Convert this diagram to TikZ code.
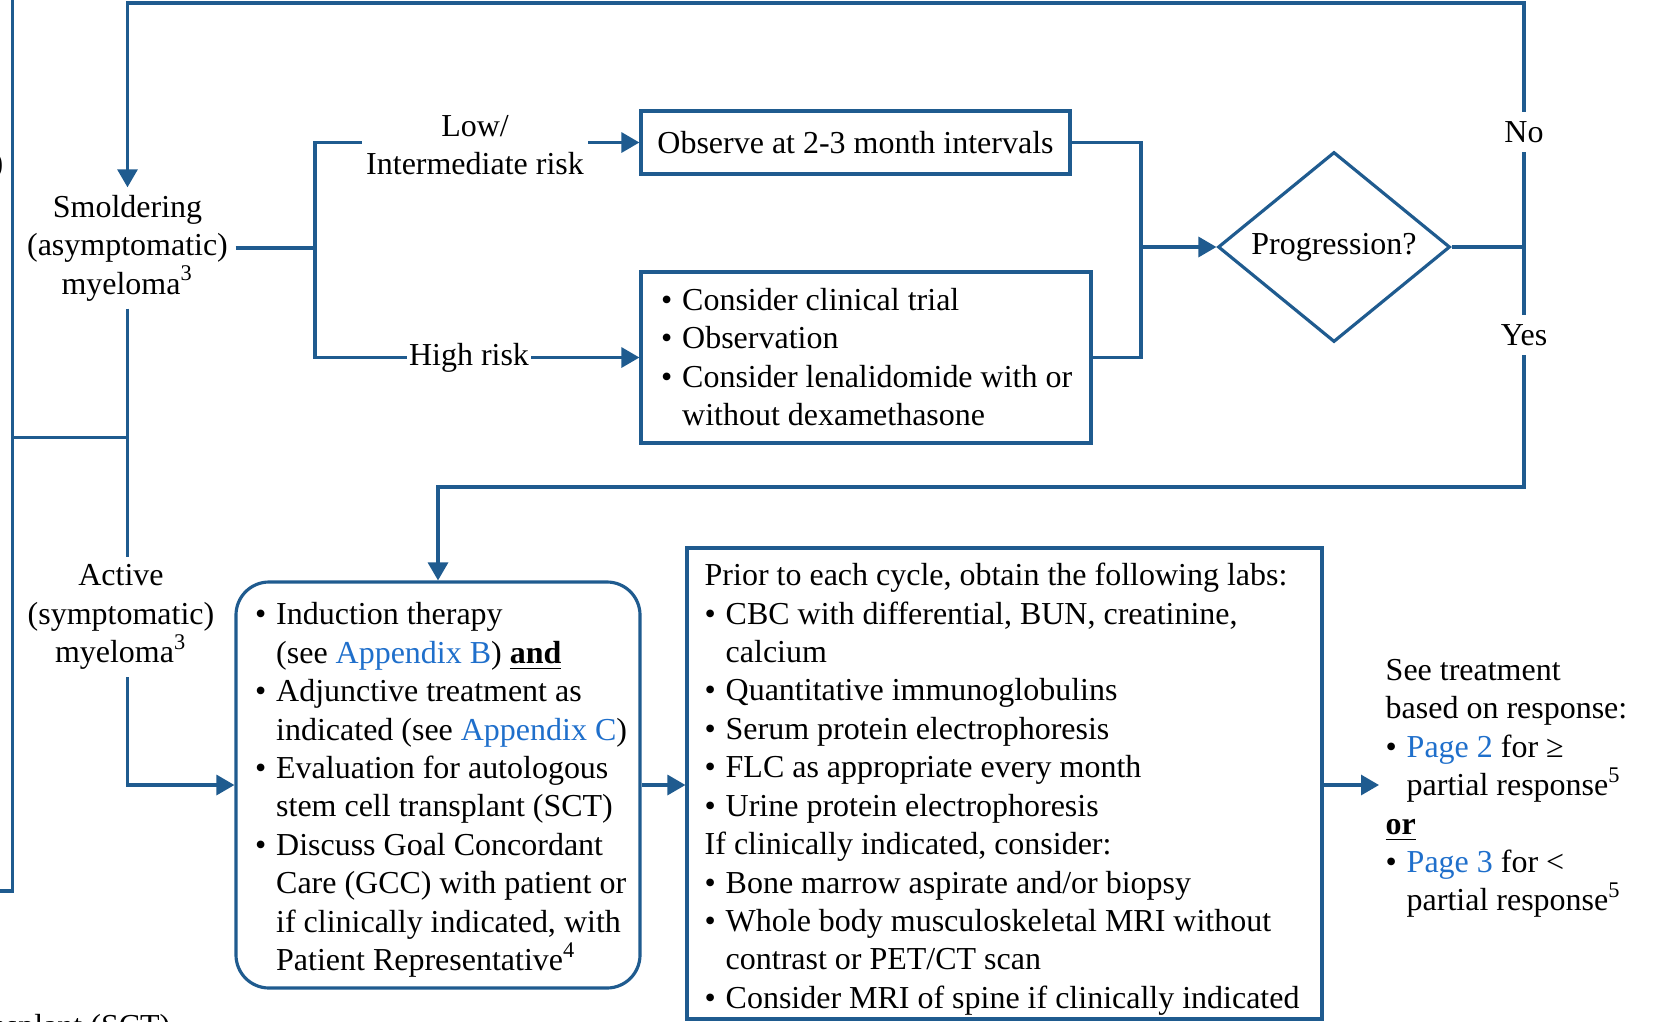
\documentclass[tikz,border=0pt]{standalone}
\usepackage{fontspec}
\setmainfont{Liberation Serif}
\usepackage{tikz}
\usetikzlibrary{positioning,arrows.meta,shapes.geometric}
\usepackage{xcolor}
\definecolor{mmblue}{HTML}{1F5B8F}
\definecolor{linkblue}{HTML}{1F6FCB}
\tikzset{
  mmline/.style={draw=mmblue, line width=0.9pt},
  mmarrow/.style={mmline, -{Triangle[length=1.8mm, width=2mm]}},
  mmbox/.style={draw=mmblue, line width=0.9pt, inner sep=0pt},
  mmtext/.style={align=left, anchor=north west, inner sep=0pt},
  mmlabel/.style={align=center, inner sep=2pt},
}
\newcommand{\itemdot}{\makebox[2.1mm][l]{\textbullet}}
\newcommand{\itemgap}{\hspace*{2.1mm}}
\newcommand{\lnk}[1]{\textcolor{linkblue}{#1}}

\begin{document}
\begin{tikzpicture}[x=0.1mm, y=-0.1mm, font=\fontsize{9.1pt}{10.93pt}\selectfont]
  \useasboundingbox (0,0) rectangle (1653,1021);
  \clip (0,0) rectangle (1653,1021);
  % left column
  \node[mmlabel] (smold) at (127.5,248) {Smoldering\\(asymptomatic)\\myeloma\textsuperscript{3}};
  \node[mmlabel] (active) at (121,617) {Active\\(symptomatic)\\myeloma\textsuperscript{3}};
  \node[anchor=base east, inner sep=0pt] (cutparen) at (4,173) {)};
  \node[anchor=base east, inner sep=0pt] (cutsct) at (171,1036) {transplant (SCT)};
  % upper branch
  \node[mmlabel, inner sep=1pt] (lowlbl) at (475,145) {Low/\\Intermediate risk};
  \node[mmlabel, inner sep=0.5pt] (highlbl) at (469,357.5) {High risk};
  \node[mmbox, minimum width=42.9mm, minimum height=6.3mm] (observe) at (855.5,142.5) {Observe at 2-3 month intervals};
  \node[mmbox, minimum width=45mm, minimum height=17.1mm] (highbox) at (866,357.5) {};
  \node[mmtext] (hightxt) at (660.5,287.5) {\itemdot Consider clinical trial\\\itemdot Observation\\\itemdot Consider lenalidomide with or\\\itemgap without dexamethasone};
  \node[mmbox, diamond, aspect=1.2, minimum width=23.2mm, minimum height=19mm] (prog) at (1334,247) {Progression?};
  \node[mmlabel, inner sep=2.6pt] (nolbl) at (1524,132) {No};
  \node[mmlabel, inner sep=2.6pt] (yeslbl) at (1524,335) {Yes};
  % lower row
  \node[mmbox, rounded corners=3.3mm, minimum width=40.4mm, minimum height=40.6mm] (treat) at (438,785) {};
  \node[mmtext] (treattxt) at (254.5,602) {\itemdot Induction therapy\\\itemgap(see \lnk{Appendix B}) \underline{\textbf{and}}\\\itemdot Adjunctive treatment as\\\itemgap indicated (see \lnk{Appendix C})\\\itemdot Evaluation for autologous\\\itemgap stem cell transplant (SCT)\\\itemdot Discuss Goal Concordant\\\itemgap Care (GCC) with patient or\\\itemgap if clinically indicated, with\\\itemgap Patient Representative\textsuperscript{4}};
  \node[mmbox, minimum width=63.5mm, minimum height=47.1mm] (labs) at (1004.5,783.5) {};
  \node[mmtext] (labstxt) at (704,562.5) {Prior to each cycle, obtain the following labs:\\\itemdot CBC with differential, BUN, creatinine,\\\itemgap calcium\\\itemdot Quantitative immunoglobulins\\\itemdot Serum protein electrophoresis\\\itemdot FLC as appropriate every month\\\itemdot Urine protein electrophoresis\\If clinically indicated, consider:\\\itemdot Bone marrow aspirate and/or biopsy\\\itemdot Whole body musculoskeletal MRI without\\\itemgap contrast or PET/CT scan\\\itemdot Consider MRI of spine if clinically indicated};
  \node[mmtext] (resp) at (1385,658.5) {See treatment\\based on response:\\\itemdot\lnk{Page 2} for ≥\\\itemgap partial response\textsuperscript{5}\\\underline{\textbf{or}}\\\itemdot\lnk{Page 3} for <\\\itemgap partial response\textsuperscript{5}};
  % junctions
  \coordinate (br) at (315,248);
  \coordinate (mg) at (1141,247);
  \coordinate (dec) at (1524,247);
  \coordinate (loopT) at (1524,3);
  \coordinate (loopB) at (1524,487);
  \coordinate (lnTop) at (12.6,-10);
  \coordinate (lnOut) at (-10,891);
  \coordinate (jn) at (12.6,437.5);
  % connectors
  \draw[mmline] (smold.east -| smold.east) -- (smold.east -| br);
  \draw[mmline] (smold.east -| br) |- (lowlbl.west |- observe.west);
  \draw[mmarrow] (lowlbl.east |- observe.west) -- (observe.west);
  \draw[mmline] (smold.east -| br) |- (highlbl.west);
  \draw[mmarrow] (highlbl.east) -- (highbox.west);
  \draw[mmline] (observe.east) -| (mg);
  \draw[mmline] (highbox.east) -| (mg);
  \draw[mmarrow] (mg) -- (prog.west);
  \draw[mmline] (prog.east) -- (dec);
  \draw[mmline] (dec) -- (nolbl.south);
  \draw[mmarrow] (nolbl.north) -- (loopT) -| (smold.north);
  \draw[mmline] (dec) -- (yeslbl.north);
  \draw[mmarrow] (yeslbl.south) -- (loopB) -| (treat.north);
  \draw[mmline] (smold.south) -- (smold.south |- active.north);
  \draw[mmarrow] (smold.south |- active.south) |- (treat.west);
  \draw[mmline] (lnTop) |- (lnOut);
  \draw[mmline] (jn) -- (jn -| smold.south);
  \draw[mmarrow] (treat.east) -- (treat.east -| labs.west);
  \draw[mmarrow, shorten >=0.6mm] (labs.east |- treat.east) -- (resp.west |- treat.east);
\end{tikzpicture}
\end{document}
